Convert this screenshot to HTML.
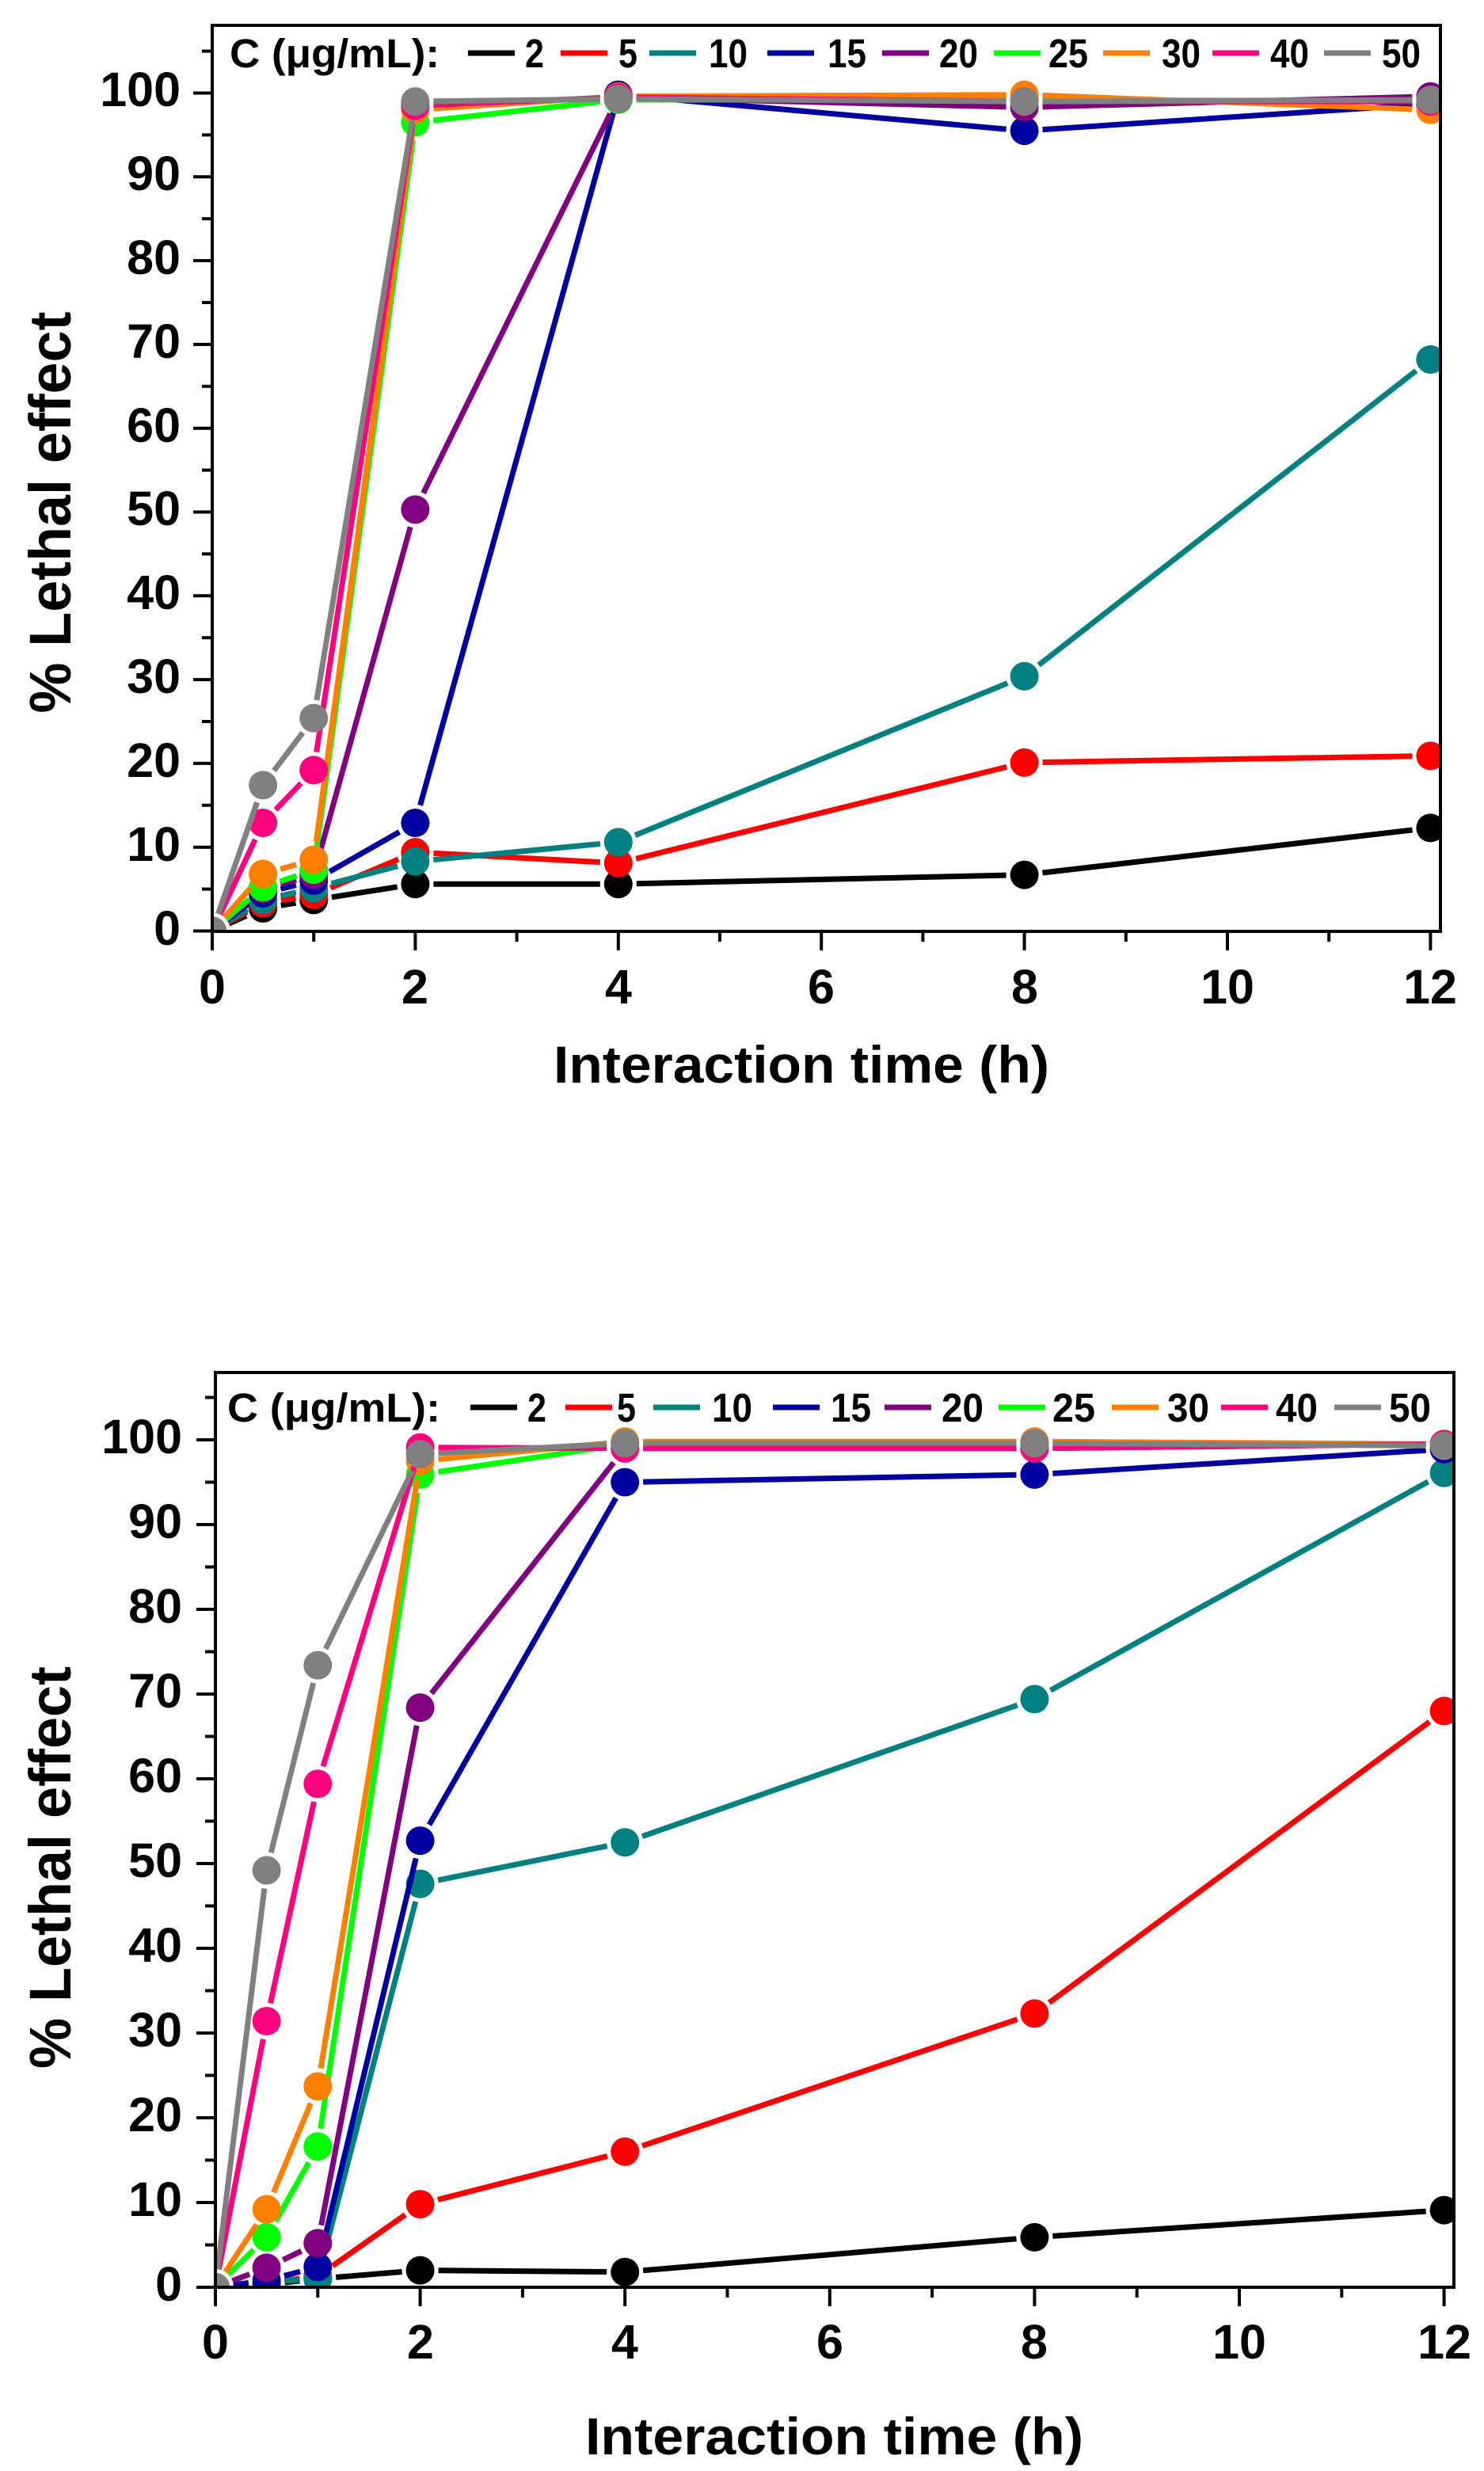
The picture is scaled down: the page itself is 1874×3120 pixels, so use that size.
<!DOCTYPE html>
<html>
<head>
<meta charset="utf-8">
<style>
html,body{margin:0;padding:0;background:#fff;}
svg{display:block;}
text{font-family:"Liberation Sans",Arial,sans-serif;font-weight:bold;fill:#000;}
</style>
</head>
<body>
<svg id="s" xmlns="http://www.w3.org/2000/svg" width="1874" height="3120" viewBox="0 0 1874 3120">
<rect x="0" y="0" width="1874" height="3120" fill="#fff"/>
<defs>
<clipPath id="c1"><rect x="268" y="32" width="1551" height="1144"/></clipPath>
<clipPath id="c2"><rect x="272" y="1733" width="1564" height="1155"/></clipPath>
</defs>
<g id="g1"></g>
<g id="g2"></g>

<!-- TOP CHART TEXT -->
<g font-size="61">
<text x="228" y="1193" text-anchor="end">0</text>
<text x="228" y="1087" text-anchor="end">10</text>
<text x="228" y="981" text-anchor="end">20</text>
<text x="228" y="875" text-anchor="end">30</text>
<text x="228" y="769" text-anchor="end">40</text>
<text x="228" y="663" text-anchor="end">50</text>
<text x="228" y="558" text-anchor="end">60</text>
<text x="228" y="452" text-anchor="end">70</text>
<text x="228" y="346" text-anchor="end">80</text>
<text x="228" y="240" text-anchor="end">90</text>
<text x="228" y="134" text-anchor="end">100</text>
<text x="268" y="1267" text-anchor="middle">0</text>
<text x="524" y="1267" text-anchor="middle">2</text>
<text x="781" y="1267" text-anchor="middle">4</text>
<text x="1037" y="1267" text-anchor="middle">6</text>
<text x="1294" y="1267" text-anchor="middle">8</text>
<text x="1550" y="1267" text-anchor="middle">10</text>
<text x="1806" y="1267" text-anchor="middle">12</text>
</g>
<text x="699" y="1367" font-size="66" textLength="626" lengthAdjust="spacingAndGlyphs">Interaction time (h)</text>
<text x="89" y="647" font-size="74" text-anchor="middle" textLength="507" lengthAdjust="spacingAndGlyphs" transform="rotate(-90 89 647)">% Lethal effect</text>
<g font-size="51">
<text x="290" y="85" textLength="265" lengthAdjust="spacingAndGlyphs">C (μg/mL):</text>
<text x="663" y="85" textLength="24" lengthAdjust="spacingAndGlyphs">2</text>
<text x="781" y="85" textLength="24" lengthAdjust="spacingAndGlyphs">5</text>
<text x="895" y="85" textLength="49" lengthAdjust="spacingAndGlyphs">10</text>
<text x="1045" y="85" textLength="49" lengthAdjust="spacingAndGlyphs">15</text>
<text x="1186" y="85" textLength="49" lengthAdjust="spacingAndGlyphs">20</text>
<text x="1324" y="85" textLength="50" lengthAdjust="spacingAndGlyphs">25</text>
<text x="1467" y="85" textLength="49" lengthAdjust="spacingAndGlyphs">30</text>
<text x="1604" y="85" textLength="49" lengthAdjust="spacingAndGlyphs">40</text>
<text x="1745" y="85" textLength="49" lengthAdjust="spacingAndGlyphs">50</text>
</g>

<!-- BOTTOM CHART TEXT -->
<g font-size="61">
<text x="230" y="2905" text-anchor="end">0</text>
<text x="230" y="2798" text-anchor="end">10</text>
<text x="230" y="2691" text-anchor="end">20</text>
<text x="230" y="2584" text-anchor="end">30</text>
<text x="230" y="2477" text-anchor="end">40</text>
<text x="230" y="2370" text-anchor="end">50</text>
<text x="230" y="2263" text-anchor="end">60</text>
<text x="230" y="2156" text-anchor="end">70</text>
<text x="230" y="2049" text-anchor="end">80</text>
<text x="230" y="1942" text-anchor="end">90</text>
<text x="230" y="1835" text-anchor="end">100</text>
<text x="272" y="2978" text-anchor="middle">0</text>
<text x="531" y="2978" text-anchor="middle">2</text>
<text x="789" y="2978" text-anchor="middle">4</text>
<text x="1048" y="2978" text-anchor="middle">6</text>
<text x="1306" y="2978" text-anchor="middle">8</text>
<text x="1565" y="2978" text-anchor="middle">10</text>
<text x="1824" y="2978" text-anchor="middle">12</text>
</g>
<text x="739" y="3099" font-size="66" textLength="629" lengthAdjust="spacingAndGlyphs">Interaction time (h)</text>
<text x="89" y="2358" font-size="74" text-anchor="middle" textLength="508" lengthAdjust="spacingAndGlyphs" transform="rotate(-90 89 2358)">% Lethal effect</text>
<g font-size="51">
<text x="287" y="1795" textLength="269" lengthAdjust="spacingAndGlyphs">C (μg/mL):</text>
<text x="666" y="1795" textLength="24" lengthAdjust="spacingAndGlyphs">2</text>
<text x="779" y="1795" textLength="24" lengthAdjust="spacingAndGlyphs">5</text>
<text x="899" y="1795" textLength="51" lengthAdjust="spacingAndGlyphs">10</text>
<text x="1049" y="1795" textLength="51" lengthAdjust="spacingAndGlyphs">15</text>
<text x="1189" y="1795" textLength="53" lengthAdjust="spacingAndGlyphs">20</text>
<text x="1329" y="1795" textLength="54" lengthAdjust="spacingAndGlyphs">25</text>
<text x="1474" y="1795" textLength="53" lengthAdjust="spacingAndGlyphs">30</text>
<text x="1611" y="1795" textLength="53" lengthAdjust="spacingAndGlyphs">40</text>
<text x="1754" y="1795" textLength="53" lengthAdjust="spacingAndGlyphs">50</text>
</g>
</svg>
<script>
(function(){
var NS="http://www.w3.org/2000/svg";
var cols=['#000000','#ff0000','#008080','#0000a0','#800080','#00ff00','#ff8000','#ff0080','#808080'];
var T=[0,0.5,1,2,4,8,12];
function el(p,n,a){var e=document.createElementNS(NS,n);for(var k in a)e.setAttribute(k,a[k]);p.appendChild(e);return e;}
function chart(c){
  var g=document.getElementById(c.g);
  var X=function(h){return c.x0+c.xs*h;}, Y=function(v){return c.y0-c.ys*v;};
  var dg=el(g,'g',{'clip-path':'url(#'+c.clip+')'});
  var gap=23;
  c.data.forEach(function(d,i){
    var col=cols[i];
    var pts=T.map(function(t,j){return [X(t),Y(d[j])];});
    for(var j=0;j<pts.length-1;j++){
      var a=pts[j],b=pts[j+1];var dx=b[0]-a[0],dy=b[1]-a[1];var L=Math.sqrt(dx*dx+dy*dy);
      if(L<=2*gap+2)continue;
      var ux=dx/L,uy=dy/L;
      el(dg,'line',{x1:a[0]+ux*gap,y1:a[1]+uy*gap,x2:b[0]-ux*gap,y2:b[1]-uy*gap,stroke:col,'stroke-width':7});
    }
    pts.forEach(function(p){el(dg,'circle',{cx:p[0],cy:p[1],r:18,fill:col});});
  });
  // frame
  el(g,'rect',{x:c.f[0],y:c.f[1],width:c.f[2]-c.f[0],height:c.f[3]-c.f[1],fill:'none',stroke:'#000','stroke-width':4});
  // y ticks
  for(var v=0;v<=105;v+=5){
    var y=Y(v);var maj=(v%10===0);
    el(g,'line',{x1:c.f[0]-(maj?24:13),y1:y,x2:c.f[0],y2:y,stroke:'#000','stroke-width':4});
  }
  for(var h=0;h<=12;h++){
    var x=X(h);var maj=(h%2===0);
    el(g,'line',{x1:x,y1:c.f[3],x2:x,y2:c.f[3]+(maj?24:13),stroke:'#000','stroke-width':4});
  }
  // legend
  c.leg.forEach(function(lx,i){
    el(g,'line',{x1:lx,y1:c.ly,x2:lx+59,y2:c.ly,stroke:cols[i],'stroke-width':7});
  });
}
chart({g:'g1',clip:'c1',x0:268,xs:128.2,y0:1175.5,ys:10.58,f:[268,32,1819,1176],ly:67,
  leg:[591,708,820,969,1114,1255,1393,1531,1672],
  data:[
  [0,2.7,3.7,5.6,5.6,6.7,12.3],
  [0,3.3,4.3,9.4,8.1,20.1,20.9],
  [0,3.7,5.1,8.3,10.6,30.4,68.2],
  [0,4.5,6.0,12.9,99.8,95.5,98.7],
  [0,5.0,6.7,50.3,99.5,98.3,99.6],
  [0,5.2,7.3,96.5,99.2,99.2,99.0],
  [0,6.8,8.5,98.0,99.6,99.8,98.0],
  [0,12.9,19.2,98.5,99.5,99.0,99.0],
  [0,17.4,25.4,99.0,99.3,99.0,99.2]]});
chart({g:'g2',clip:'c2',x0:272,xs:129.3,y0:2888,ys:10.7,f:[272,1733,1836,2888],ly:1777,
  leg:[594,714,825,976,1117,1261,1404,1542,1685],
  data:[
  [0,0.3,1.0,2.0,1.8,5.9,9.1],
  [0,0.5,1.3,9.8,16.0,32.3,68.0],
  [0,0.6,1.0,47.6,52.5,69.4,96.1],
  [0,0.8,2.4,52.7,95.0,95.9,98.9],
  [0,2.3,5.2,68.4,99.0,99.0,99.5],
  [0,5.9,16.6,95.9,99.5,99.5,99.5],
  [0,9.2,23.7,97.5,99.8,99.8,99.5],
  [0,31.4,59.4,99.1,99.0,99.0,99.5],
  [0,49.2,73.4,98.3,99.6,99.6,99.3]]});
})();
</script>
</body>
</html>
